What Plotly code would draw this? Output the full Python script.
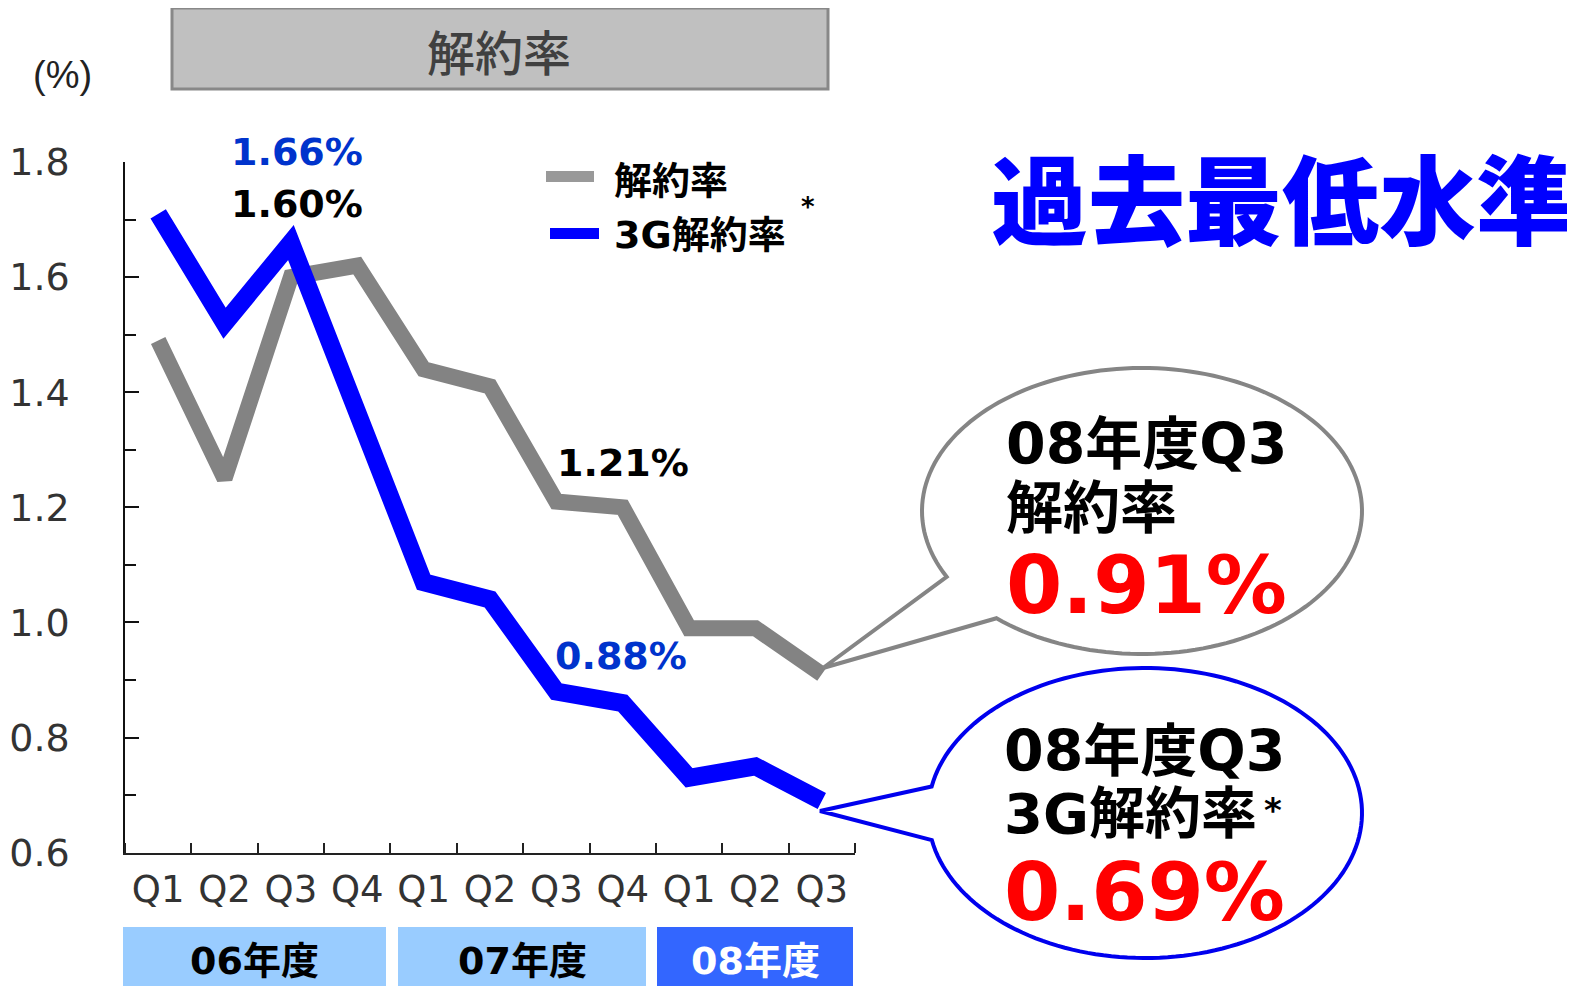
import numpy as np
import plotly.graph_objects as go

# page body has an 8px margin: figure is offset by (8, 8) in the window
OFF = 8
FW, FH = 1567, 978

# ---------------- data ----------------
categories = ["06Q1", "06Q2", "06Q3", "06Q4", "07Q1", "07Q2", "07Q3", "07Q4", "08Q1", "08Q2", "08Q3"]
tick_labels = ["Q1", "Q2", "Q3", "Q4", "Q1", "Q2", "Q3", "Q4", "Q1", "Q2", "Q3"]
churn = [1.49, 1.25, 1.60, 1.62, 1.44, 1.41, 1.21, 1.20, 0.99, 0.99, 0.91]
churn_3g = [1.71, 1.52, 1.66, 1.37, 1.07, 1.04, 0.88, 0.86, 0.73, 0.75, 0.69]
fiscal_years = ["06年度", "07年度", "08年度"]
y_tick_vals = [0.6, 0.8, 1.0, 1.2, 1.4, 1.6, 1.8]
y_tick_text = ["0.6", "0.8", "1.0", "1.2", "1.4", "1.6", "1.8"]

NUM = "DejaVu Sans, Noto Sans CJK JP"
CJK = "Noto Sans CJK JP, DejaVu Sans"

xi = list(range(len(categories)))


def PX(x):
    return (x - OFF) / FW


def PY(y):
    return 1 - (y - OFF) / FH


fig = go.Figure()
fig.add_trace(go.Scatter(x=xi, y=churn, mode="lines",
                         line=dict(color="#838383", width=16), name="解約率",
                         showlegend=False, hoverinfo="skip"))
fig.add_trace(go.Scatter(x=xi, y=churn_3g, mode="lines",
                         line=dict(color="#0000FF", width=18), name="3G解約率",
                         showlegend=False, hoverinfo="skip"))

shapes = []
annotations = []

# title box
shapes.append(dict(type="rect", xref="paper", yref="paper",
                   x0=PX(172), x1=PX(828), y0=PY(89), y1=PY(8),
                   fillcolor="#C0C0C0", line=dict(color="#888888", width=3), layer="below"))
annotations.append(dict(text="解約率", xref="paper", yref="paper", x=PX(499), y=PY(50),
                        showarrow=False, xanchor="center", yanchor="middle",
                        font=dict(family=CJK, size=48, color="#404040", weight=500)))

# (%)
annotations.append(dict(text="(%)", xref="paper", yref="paper", x=PX(62), y=PY(75),
                        showarrow=False, xanchor="center", yanchor="middle",
                        font=dict(family="Liberation Sans", size=38, color="#222222")))

# legend
shapes.append(dict(type="rect", xref="paper", yref="paper", x0=PX(546), x1=PX(594),
                   y0=PY(182), y1=PY(171), fillcolor="#999999", line=dict(width=0)))
shapes.append(dict(type="rect", xref="paper", yref="paper", x0=PX(550), x1=PX(599),
                   y0=PY(239), y1=PY(228), fillcolor="#0000FF", line=dict(width=0)))
annotations.append(dict(text="解約率", xref="paper", yref="paper", x=PX(612), y=PY(178),
                        showarrow=False, xanchor="left", yanchor="middle",
                        font=dict(family=CJK, size=38, color="#000000", weight="bold")))
annotations.append(dict(text="3G解約率", xref="paper", yref="paper", x=PX(612), y=PY(235),
                        showarrow=False, xanchor="left", yanchor="middle",
                        font=dict(family=NUM, size=38, color="#000000", weight="bold")))
annotations.append(dict(text="*", xref="paper", yref="paper", x=PX(808), y=PY(207),
                        showarrow=False, xanchor="center", yanchor="middle",
                        font=dict(family=NUM, size=26, color="#000000", weight="bold")))

# big headline
annotations.append(dict(text="過去最低水準", xref="paper", yref="paper", x=PX(1282), y=PY(194),
                        showarrow=False, xanchor="center", yanchor="middle",
                        font=dict(family=CJK, size=97, color="#0000FF", weight=900)))

# data labels
lab_font = lambda c, s=38: dict(family=NUM, size=s, color=c, weight="bold")
annotations.append(dict(text="1.66%", xref="x", yref="paper", x=xi[2], xshift=6, y=PY(152),
                        showarrow=False, xanchor="center", yanchor="middle", font=lab_font("#0033CC")))
annotations.append(dict(text="1.60%", xref="x", yref="paper", x=xi[2], xshift=6, y=PY(204),
                        showarrow=False, xanchor="center", yanchor="middle", font=lab_font("#000000")))
annotations.append(dict(text="1.21%", xref="x", yref="paper", x=xi[6], xshift=67, y=PY(463),
                        showarrow=False, xanchor="center", yanchor="middle", font=lab_font("#000000")))
annotations.append(dict(text="0.88%", xref="x", yref="paper", x=xi[6], xshift=65, y=PY(656),
                        showarrow=False, xanchor="center", yanchor="middle", font=lab_font("#0033CC")))


# callout bubbles
def bubble(cx, cy, rx, ry, t0, t1, tip):
    ts = np.radians(np.linspace(t0, t1, 160))
    xs = cx + rx * np.cos(ts)
    ys = cy + ry * np.sin(ts)
    d = "M {:.5f},{:.5f}".format(PX(xs[0]), PY(ys[0]))
    for x, y in zip(xs[1:], ys[1:]):
        d += " L {:.5f},{:.5f}".format(PX(x), PY(y))
    d += " L {:.5f},{:.5f} Z".format(PX(tip[0]), PY(tip[1]))
    return d


shapes.append(dict(type="path", xref="paper", yref="paper",
                   path=bubble(1142, 511, 220, 143, 131.4, -207.4, (823, 668)),
                   fillcolor="#FFFFFF", line=dict(color="#858585", width=4), layer="above"))
shapes.append(dict(type="path", xref="paper", yref="paper",
                   path=bubble(1145, 813, 217, 145, 169.2, -169.5, (820, 811)),
                   fillcolor="#FFFFFF", line=dict(color="#0000EE", width=4), layer="above"))

cf = dict(family=NUM, size=57, color="#000000", weight="bold")
big = dict(family=NUM, size=81, color="#FF0000", weight="bold")
annotations += [
    dict(text="08年度Q3", xref="paper", yref="paper", x=PX(1004), y=PY(444), showarrow=False,
         xanchor="left", yanchor="middle", font=cf),
    dict(text="解約率", xref="paper", yref="paper", x=PX(1004), y=PY(508), showarrow=False,
         xanchor="left", yanchor="middle", font=cf),
    dict(text="0.91%", xref="paper", yref="paper", x=PX(1004), y=PY(585), showarrow=False,
         xanchor="left", yanchor="middle", font=big),
    dict(text="08年度Q3", xref="paper", yref="paper", x=PX(1002), y=PY(751), showarrow=False,
         xanchor="left", yanchor="middle", font=cf),
    dict(text="3G解約率", xref="paper", yref="paper", x=PX(1002), y=PY(813), showarrow=False,
         xanchor="left", yanchor="middle", font=dict(family=NUM, size=56, color="#000000", weight="bold")),
    dict(text="*", xref="paper", yref="paper", x=PX(1262), y=PY(810), showarrow=False,
         xanchor="left", yanchor="middle", font=dict(family=NUM, size=34, color="#000000", weight="bold")),
    dict(text="0.69%", xref="paper", yref="paper", x=PX(1002), y=PY(892), showarrow=False,
         xanchor="left", yanchor="middle", font=big),
]

# fiscal year boxes
fy_boxes = [(123, 386, "#99CCFF", "#000000"), (398, 646, "#99CCFF", "#000000"), (657, 853, "#3366FF", "#FFFFFF")]
for label, (x0, x1, fc, tc) in zip(fiscal_years, fy_boxes):
    shapes.append(dict(type="rect", xref="paper", yref="paper", x0=PX(x0), x1=PX(x1),
                       y0=PY(986), y1=PY(927), fillcolor=fc, line=dict(width=0)))
    annotations.append(dict(text=label, xref="paper", yref="paper", x=PX((x0 + x1) / 2), y=PY(961),
                            showarrow=False, xanchor="center", yanchor="middle",
                            font=dict(family=NUM, size=38, color=tc, weight="bold")))

fig.update_layout(
    template="none",
    width=FW, height=FH,
    margin=dict(l=0, r=0, t=0, b=0, pad=0, autoexpand=False),
    paper_bgcolor="white", plot_bgcolor="white",
    shapes=shapes, annotations=annotations,
    showlegend=False,
    xaxis=dict(domain=[PX(125), PX(855)], range=[-0.5, len(categories) - 0.5],
               tickmode="array", tickvals=xi, ticktext=tick_labels, ticks="",
               minor=dict(tickmode="linear", tick0=0.5, dtick=1, ticks="inside", ticklen=10,
                          tickwidth=1.5, tickcolor="#222222", showgrid=False),
               showline=True, linecolor="#222222", linewidth=1.5, showgrid=False, zeroline=False,
               tickfont=dict(family="DejaVu Sans", size=37, color="#333333"), automargin=False,
               ticklabelstandoff=3, fixedrange=True),
    yaxis=dict(domain=[PY(852.7), PY(162)], range=[0.6, 1.8], tickmode="array",
               tickvals=y_tick_vals, ticktext=y_tick_text,
               ticks="inside", ticklen=14, tickwidth=1.5, tickcolor="#111111",
               minor=dict(dtick=0.1, ticks="inside", ticklen=11, tickwidth=1.5, tickcolor="#111111",
                          showgrid=False),
               showline=True, linecolor="#111111", linewidth=1.5, showgrid=False, zeroline=False,
               tickfont=dict(family="DejaVu Sans", size=38, color="#333333"), automargin=False,
               ticklabelstandoff=46, fixedrange=True),
)

fig.write_html("out.html")
